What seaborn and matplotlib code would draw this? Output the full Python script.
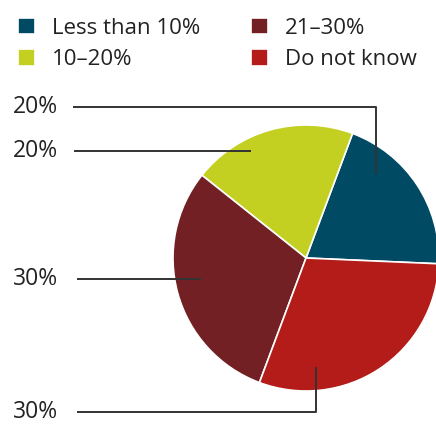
import matplotlib
matplotlib.use("Agg")
import matplotlib.pyplot as plt
import seaborn as sns

categories = ["Less than 10%", "10–20%", "21–30%", "Do not know"]
values = [20, 20, 30, 30]
value_labels = ["20%", "20%", "30%", "30%"]
colors = ["#004a63", "#c3d021", "#722024", "#b31c18"]

sns.set_theme(style="white")
plt.rcParams["font.family"] = ["Open Sans", "DejaVu Sans"]

W, H = 436, 428
fig = plt.figure(figsize=(W / 100, H / 100), dpi=100)
ax = fig.add_axes([0, 0, 1, 1])

cx, cy, r = 306, H - 258, 133
wedges, _ = ax.pie(values, colors=colors, startangle=-2.5, counterclock=True,
                   center=(cx, cy), radius=r,
                   wedgeprops=dict(edgecolor="white", linewidth=1.2))
ax.set_xlim(0, W)
ax.set_ylim(0, H)
ax.set_aspect("equal")
ax.set_axis_off()

# leader lines: (label y, path points)
line_color = "#333333"
leaders = [
    (107, [(73, 107), (376, 107), (376, 174)]),
    (151, [(74, 151), (251, 151)]),
    (279, [(77, 279), (201, 279)]),
    (412, [(77, 412), (316, 412), (316, 367)]),
]
for lab, (ty, pts) in zip(value_labels, leaders):
    xs = [p[0] for p in pts]
    ys = [H - p[1] for p in pts]
    ax.plot(xs, ys, color=line_color, lw=1.4, solid_capstyle="butt")
    ax.text(13, H - ty, lab, ha="left", va="center", fontsize=16.5, color="#222222")

fig.legend(wedges, categories, ncol=2, loc="upper left",
           bbox_to_anchor=(0.0, 1.0), frameon=False, fontsize=16,
           handlelength=0.78, handleheight=0.78, handletextpad=0.75,
           columnspacing=2.3, labelspacing=0.45, borderaxespad=0.4,
           labelcolor="#222222")

fig.savefig("out.png", dpi=100)
